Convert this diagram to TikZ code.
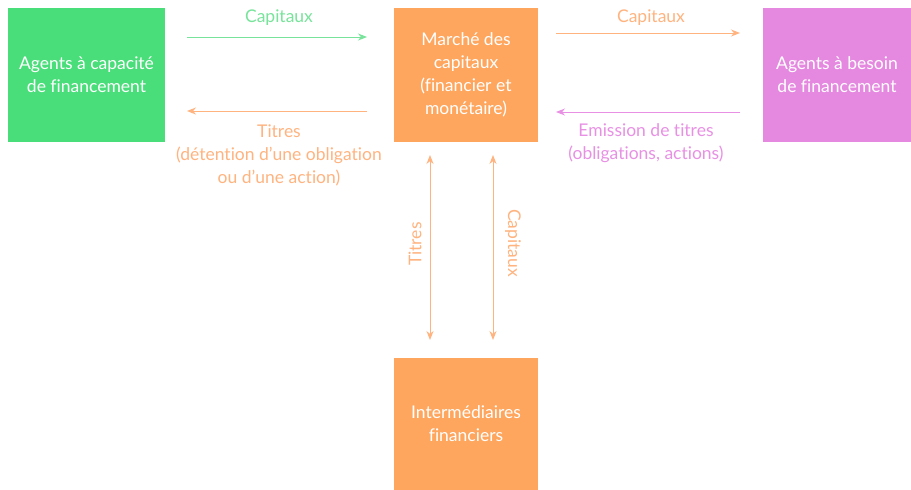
\documentclass[tikz,border=0pt]{standalone}
\usepackage{fontspec}
\setmainfont{Lato}[Ligatures={NoCommon}]
\usetikzlibrary{arrows.meta}
\definecolor{gbox}{RGB}{74,222,123}
\definecolor{obox}{RGB}{255,166,94}
\definecolor{pbox}{RGB}{229,137,224}
\definecolor{glab}{RGB}{120,228,155}
\definecolor{olab}{RGB}{255,180,128}
\definecolor{plab}{RGB}{232,145,228}
\begin{document}
\begin{tikzpicture}[x=1pt,y=-1pt,
  font=\fontsize{17.5}{23}\selectfont,
  box/.style={minimum width=#1, minimum height=134pt, text=white, align=center, inner sep=0pt},
  lab/.style={align=center, inner sep=0pt},
  arr/.style={line width=1pt, -{Stealth[length=9pt,width=7pt]}},
  darr/.style={line width=1pt, {Stealth[length=9pt,width=7pt]}-{Stealth[length=9pt,width=7pt]}}]
\fill[white] (0,0) rectangle (911,490);
\useasboundingbox (0,0) rectangle (911,490);
\node[box=157pt, fill=gbox] (A) at (86.5,75) {Agents à capacité\\de financement};
\node[box=144pt, fill=obox] (M) at (466,75) {Marché des\\capitaux\\(financier et\\monétaire)};
\node[box=148pt, fill=pbox] (B) at (837,75) {Agents à besoin\\de financement};
\node[box=144pt, minimum height=132pt, fill=obox] (I) at (466,424) {Intermédiaires\\financiers};
% coordinates
\coordinate (g1) at (187,37); \coordinate (g2) at (367,37);
\coordinate (t1) at (367,111); \coordinate (t2) at (187,111);
\coordinate (c1) at (556,33); \coordinate (c2) at (740,33);
\coordinate (e1) at (740,112); \coordinate (e2) at (556,112);
\coordinate (v1a) at (430,155); \coordinate (v1b) at (430,340);
\coordinate (v2a) at (493,155); \coordinate (v2b) at (493,340);
\draw[arr, glab] (g1) -- (g2);
\draw[arr, olab] (t1) -- (t2);
\draw[arr, olab] (c1) -- (c2);
\draw[arr, plab] (e1) -- (e2);
\draw[darr, olab] (v1a) -- (v1b);
\draw[darr, olab] (v2a) -- (v2b);
\node[lab, text=glab] (lg) at (279,18) {Capitaux};
\node[lab, text=olab] (lt) at (279,155) {Titres\\(détention d’une obligation\\ou d’une action)};
\node[lab, text=olab] (lc) at (651,18) {Capitaux};
\node[lab, text=plab] (le) at (646,143) {Emission de titres\\(obligations, actions)};
\node[lab, text=olab, rotate=90] (lv1) at (415,244) {Titres};
\node[lab, text=olab, rotate=-90] (lv2) at (513,243) {Capitaux};
\end{tikzpicture}
\end{document}
